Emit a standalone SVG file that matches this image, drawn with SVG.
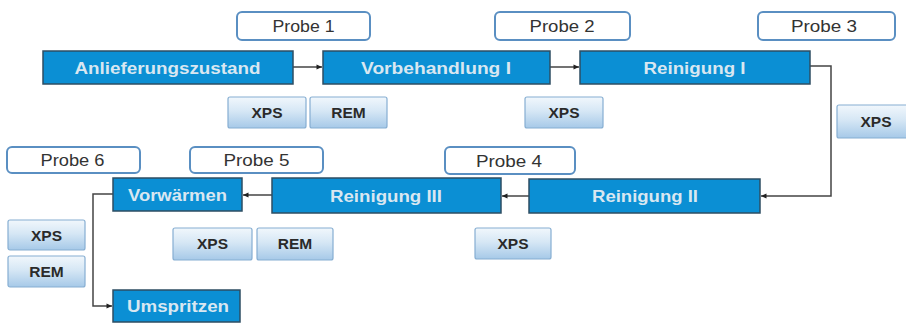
<svg xmlns="http://www.w3.org/2000/svg" width="906" height="325" viewBox="0 0 906 325">
<defs>
<linearGradient id="g" x1="0" y1="0" x2="0" y2="1">
<stop offset="0" stop-color="#f1f7fc"/>
<stop offset="0.45" stop-color="#d6e7f5"/>
<stop offset="1" stop-color="#a6c9e8"/>
</linearGradient>
<marker id="a" markerUnits="userSpaceOnUse" markerWidth="7" markerHeight="7" refX="6" refY="3.5" orient="auto">
<path d="M0.5,1 L6,3.5 L0.5,6 Z" fill="#222"/>
</marker>
<style>
.step rect{fill:#0b8fd4;stroke:#2e4e63;stroke-width:1.5}
.step text{font-family:"Liberation Sans",Arial,sans-serif;font-weight:bold;font-size:16px;fill:#d9e7f1;text-anchor:middle}
.probe rect{fill:#fff;stroke:#5a8fc2;stroke-width:2}
.probe text{font-family:"Liberation Sans",Arial,sans-serif;font-size:16px;fill:#333;text-anchor:middle}
.meth rect{fill:url(#g);stroke:#86aed2;stroke-width:1.2}
.meth text{font-family:"Liberation Sans",Arial,sans-serif;font-weight:bold;font-size:15.5px;fill:#2a2a2a;text-anchor:middle}
.conn path{fill:none;stroke:#444;stroke-width:1.5;marker-end:url(#a)}
</style>
</defs>
<rect width="906" height="325" fill="#fff"/>

<g id="connectors" class="conn">
<path d="M293,67 H322"/>
<path d="M550,67 H579"/>
<path d="M810,66 H831 V196 H761"/>
<path d="M529,196 H502"/>
<path d="M272,195 H243"/>
<path d="M113,194 H93 V306 H112"/>
</g>

<g id="probe1" class="probe"><rect x="237" y="12" width="133" height="28" rx="5"/><text x="303.5" y="32" textLength="62" lengthAdjust="spacingAndGlyphs">Probe 1</text></g>
<g id="probe2" class="probe"><rect x="495" y="12" width="135" height="28" rx="5"/><text x="562" y="32" textLength="65" lengthAdjust="spacingAndGlyphs">Probe 2</text></g>
<g id="probe3" class="probe"><rect x="758" y="12" width="137" height="28" rx="5"/><text x="824" y="32" textLength="66" lengthAdjust="spacingAndGlyphs">Probe 3</text></g>
<g id="probe4" class="probe"><rect x="445" y="147" width="130" height="27" rx="5"/><text x="509" y="166.5" textLength="66" lengthAdjust="spacingAndGlyphs">Probe 4</text></g>
<g id="probe5" class="probe"><rect x="190" y="147" width="133" height="26" rx="5"/><text x="256.5" y="166" textLength="66" lengthAdjust="spacingAndGlyphs">Probe 5</text></g>
<g id="probe6" class="probe"><rect x="7" y="147" width="133" height="26" rx="5"/><text x="72.5" y="166" textLength="64" lengthAdjust="spacingAndGlyphs">Probe 6</text></g>

<g id="anlieferungszustand" class="step"><rect x="43" y="51" width="250" height="33"/><text x="167.5" y="73.5" textLength="186" lengthAdjust="spacingAndGlyphs">Anlieferungszustand</text></g>
<g id="vorbehandlung1" class="step"><rect x="323" y="51" width="227" height="33"/><text x="436" y="73.5" textLength="150" lengthAdjust="spacingAndGlyphs">Vorbehandlung I</text></g>
<g id="reinigung1" class="step"><rect x="580" y="51" width="230" height="33"/><text x="694.5" y="73.5" textLength="102" lengthAdjust="spacingAndGlyphs">Reinigung I</text></g>
<g id="reinigung2" class="step"><rect x="529" y="179" width="231" height="34"/><text x="645" y="202" textLength="106" lengthAdjust="spacingAndGlyphs">Reinigung II</text></g>
<g id="reinigung3" class="step"><rect x="272" y="178" width="229" height="35"/><text x="386" y="201.5" textLength="112" lengthAdjust="spacingAndGlyphs">Reinigung III</text></g>
<g id="vorwaermen" class="step"><rect x="113" y="178" width="129" height="33"/><text x="177.5" y="200.5" textLength="99" lengthAdjust="spacingAndGlyphs">Vorwärmen</text></g>
<g id="umspritzen" class="step"><rect x="113" y="290" width="127" height="32"/><text x="178" y="312" textLength="102" lengthAdjust="spacingAndGlyphs">Umspritzen</text></g>

<g id="xps1" class="meth"><rect x="228" y="97" width="78" height="31" rx="2"/><text x="267" y="118">XPS</text></g>
<g id="rem1" class="meth"><rect x="310" y="97" width="77" height="31" rx="2"/><text x="348.5" y="118">REM</text></g>
<g id="xps2" class="meth"><rect x="525" y="97" width="78" height="31" rx="2"/><text x="564" y="118">XPS</text></g>
<g id="xps3" class="meth"><rect x="837" y="105" width="78" height="33" rx="2"/><text x="876" y="127">XPS</text></g>
<g id="xps4" class="meth"><rect x="475" y="228" width="76" height="31" rx="2"/><text x="513" y="249">XPS</text></g>
<g id="xps5" class="meth"><rect x="173" y="228" width="79" height="32" rx="2"/><text x="212.5" y="249">XPS</text></g>
<g id="rem5" class="meth"><rect x="257" y="228" width="76" height="32" rx="2"/><text x="295" y="249">REM</text></g>
<g id="xps6" class="meth"><rect x="8" y="220" width="77" height="30" rx="2"/><text x="46.5" y="240.5">XPS</text></g>
<g id="rem6" class="meth"><rect x="8" y="256" width="77" height="31" rx="2"/><text x="46.5" y="277">REM</text></g>
</svg>
